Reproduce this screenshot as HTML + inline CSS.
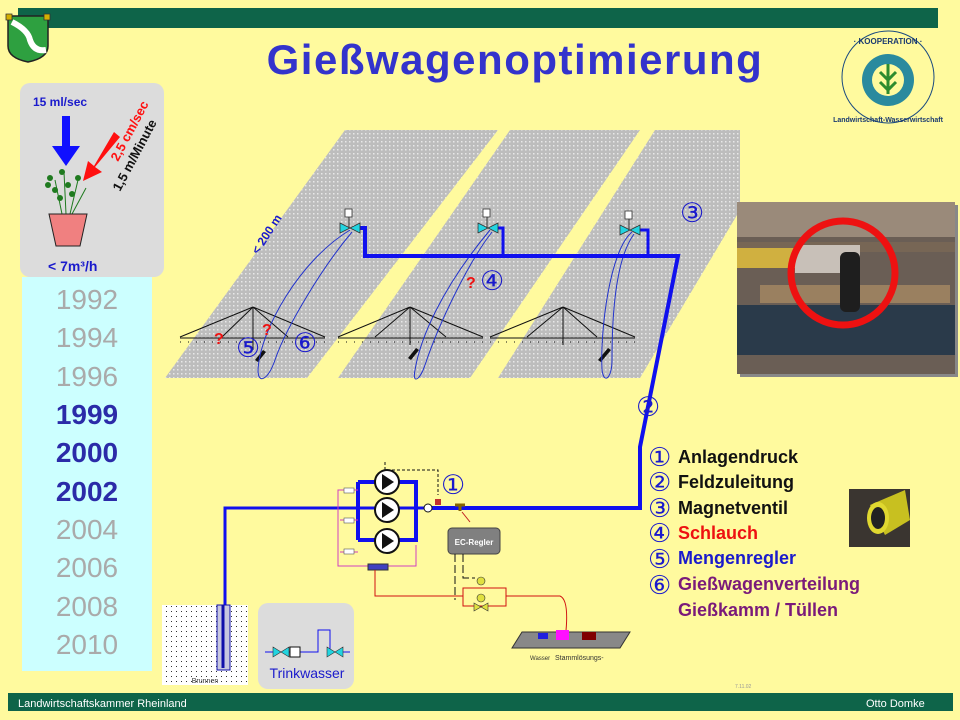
<!DOCTYPE html>
<html><head><meta charset="utf-8"><style>
body{margin:0;width:960px;height:720px;overflow:hidden;background:#FFFA9E;font-family:"Liberation Sans",sans-serif}
svg{display:block}
</style></head><body>
<svg width="960" height="720" viewBox="0 0 960 720" xmlns="http://www.w3.org/2000/svg" font-family="Liberation Sans, sans-serif">
<defs>
<pattern id="dots" width="4" height="4" patternUnits="userSpaceOnUse"><rect width="4" height="4" fill="#BDBDBD"/><rect x="1" y="1" width="1.5" height="1.5" fill="#E8E8E8"/></pattern>
<pattern id="sand" width="5" height="5" patternUnits="userSpaceOnUse"><rect width="5" height="5" fill="#fff"/><rect x="1" y="1" width="1" height="1" fill="#333"/></pattern>
</defs>
<rect width="960" height="720" fill="#FFFA9E"/>
<rect x="18" y="8" width="920" height="20" fill="#0E6449"/>
<path d="M8 16 L48 16 L48 46 Q48 58 28 62 Q8 58 8 46 Z" fill="#2EA040" stroke="#222" stroke-width="1.5"/>
<path d="M6 14 h6 v6 h-6z M44 14 h6 v6 h-6z" fill="#D4B000" stroke="#333" stroke-width="0.8"/>
<path d="M12 22 Q28 30 30 40 Q34 52 46 50" stroke="#fff" stroke-width="6" fill="none"/>
<text x="515" y="74" text-anchor="middle" font-size="42" font-weight="bold" fill="#3333CC" letter-spacing="1.5">Gießwagenoptimierung</text>
<circle cx="888" cy="77" r="46" fill="#FFFA9E" stroke="#1a4a80" stroke-width="1"/>
<circle cx="888" cy="80" r="26" fill="#2a8a9e"/>
<circle cx="888" cy="80" r="16" fill="#FFFA9E"/>
<path d="M888 64 v30 M880 72 l8 8 l8 -8 M880 82 l8 8 l8-8" stroke="#2E8B2E" stroke-width="3" fill="none"/>
<text x="888" y="44" text-anchor="middle" font-size="8" font-weight="bold" fill="#1a3a70">· KOOPERATION ·</text>
<text x="888" y="122" text-anchor="middle" font-size="7" font-weight="bold" fill="#1a3a70">Landwirtschaft-Wasserwirtschaft</text>
<rect x="20" y="83" width="144" height="194" rx="10" fill="#DCDCDC"/>
<text x="33" y="106" font-size="12" font-weight="bold" fill="#1a1acc">15 ml/sec</text>
<path d="M62 116 h8 v30 h10 l-14 20 l-14 -20 h10z" fill="#1010FF"/>
<path d="M114 132 l6 5 l-25 30 l7 5 l-19 9 l5 -20 l6 5z" fill="#FF1010"/>
<text transform="translate(118 162) rotate(-62)" font-size="13" font-weight="bold" fill="#FF1010">2,5 cm/sec</text>
<text transform="translate(120 192) rotate(-62)" font-size="13" font-weight="bold" fill="#111">1,5 m/Minute</text>
<g fill="#1F7A1F"><circle cx="50" cy="178" r="3"/><circle cx="62" cy="172" r="3"/><circle cx="78" cy="178" r="3"/><circle cx="55" cy="190" r="3"/><circle cx="68" cy="185" r="3"/><circle cx="60" cy="198" r="3"/><circle cx="72" cy="194" r="3"/><circle cx="48" cy="185" r="3"/></g>
<path d="M62 214 L55 180 M66 214 L64 172 M70 214 L78 180 M72 214 L86 188" stroke="#1F7A1F" stroke-width="1"/>
<path d="M49 214 h38 l-7 32 h-24z" fill="#F08080" stroke="#222"/>
<text x="48" y="271" font-size="14" font-weight="bold" fill="#1a1acc">&lt; 7m³/h</text>
<rect x="22" y="277" width="130" height="394" fill="#CCFFFF"/>
<g font-size="28" text-anchor="middle">
<text x="87" y="309" fill="#AAAAAA">1992</text>
<text x="87" y="347" fill="#AAAAAA">1994</text>
<text x="87" y="386" fill="#AAAAAA">1996</text>
<text x="87" y="424" fill="#2B2BA8" font-weight="bold">1999</text>
<text x="87" y="462" fill="#2B2BA8" font-weight="bold">2000</text>
<text x="87" y="501" fill="#2B2BA8" font-weight="bold">2002</text>
<text x="87" y="539" fill="#AAAAAA">2004</text>
<text x="87" y="577" fill="#AAAAAA">2006</text>
<text x="87" y="616" fill="#AAAAAA">2008</text>
<text x="87" y="654" fill="#AAAAAA">2010</text>
</g>
<polygon points="345,130 498,130 307,378 165,378" fill="url(#dots)"/>
<polygon points="510,130 640,130 470,378 338,378" fill="url(#dots)"/>
<polygon points="655,130 740,130 740,210 640,378 498,378" fill="url(#dots)"/>
<text transform="translate(258 255) rotate(-57)" font-size="12" font-weight="bold" fill="#1a1acc">&lt; 200 m</text>
<g stroke="#111" stroke-width="1" fill="none">
<path d="M180 338 H325 M253 307 L180 337 M253 307 L325 337 M253 307 L222 337 M253 307 L288 337 M253 307 V350"/>
<path d="M338 338 H483 M410 307 L338 337 M410 307 L483 337 M410 307 L375 337 M410 307 L446 337 M410 307 V345"/>
<path d="M490 338 H635 M563 307 L490 337 M563 307 L635 337 M563 307 L527 337 M563 307 L597 337 M563 307 V345"/>
<path d="M180 342 H325 M338 342 H483 M490 342 H635" stroke-dasharray="1 7"/>
</g>
<path d="M255 360 l8 -10 l3 2 l-8 10z M408 358 l8 -10 l3 2 l-8 10z M598 360 l10 -12 l3 2 l-10 12z" fill="#111"/>
<g stroke="#2233CC" stroke-width="1" fill="none">
<path d="M350 230 C300 260 260 330 258 370 C258 385 268 380 275 360 C285 330 320 270 352 232"/>
<path d="M490 230 C440 290 420 340 415 370 C412 385 420 380 425 365 C440 320 470 260 492 232"/>
<path d="M632 232 C610 250 600 330 602 370 C604 385 612 378 612 360 C612 320 615 260 634 234"/>
</g>
<path d="M357 228 H365 V256 H678 L640 447 V508 H430" stroke="#1010EE" stroke-width="4" fill="none"/>
<path d="M495 228 H503 V256 M638 230 H648 V256" stroke="#1010EE" stroke-width="3" fill="none"/>
<g fill="#22D4E0" stroke="#333" stroke-width="0.8">
<path d="M340 223 l10 5 l-10 5z M360 223 l-10 5 l10 5z"/>
<path d="M478 223 l10 5 l-10 5z M498 223 l-10 5 l10 5z"/>
<path d="M620 225 l10 5 l-10 5z M640 225 l-10 5 l10 5z"/>
</g>
<g fill="#fff" stroke="#333" stroke-width="0.8"><rect x="345" y="209" width="7" height="8"/><rect x="483" y="209" width="7" height="8"/><rect x="625" y="211" width="7" height="8"/></g>
<path d="M349 217 v11 M487 217 v11 M629 219 v11" stroke="#333"/>
<g font-size="27" fill="#1a1acc" font-family="DejaVu Sans, sans-serif">
<text x="680" y="222">③</text>
<text x="480" y="290">④</text>
<text x="236" y="357">⑤</text>
<text x="293" y="352">⑥</text>
<text x="636" y="416">②</text>
<text x="441" y="494">①</text>
</g>
<g font-size="16" font-weight="bold" fill="#EE1111">
<text x="466" y="288">?</text><text x="214" y="344">?</text><text x="262" y="335">?</text>
</g>
<rect x="740" y="205" width="218" height="172" fill="#888"/>
<rect x="737" y="202" width="218" height="172" fill="#6a5e55"/>
<rect x="737" y="202" width="218" height="35" fill="#9a8a7a"/>
<rect x="737" y="242" width="218" height="10" fill="#776655"/>
<rect x="737" y="248" width="60" height="20" fill="#D0B040"/>
<rect x="795" y="245" width="65" height="28" fill="#c8c0b8"/>
<rect x="737" y="305" width="218" height="50" fill="#2a3a4a"/>
<rect x="760" y="285" width="190" height="18" fill="#9a8060"/>
<rect x="840" y="252" width="20" height="60" fill="#1e1e1e" rx="6"/>
<circle cx="843" cy="273" r="52" fill="none" stroke="#EE1111" stroke-width="7"/>
<g font-family="DejaVu Sans, sans-serif" fill="#1a1acc" font-size="26">
<text x="648" y="466">①</text><text x="648" y="491">②</text><text x="648" y="517">③</text><text x="648" y="542">④</text><text x="648" y="568">⑤</text><text x="648" y="594">⑥</text>
</g>
<g font-size="18" font-weight="bold">
<text x="678" y="463" fill="#111">Anlagendruck</text>
<text x="678" y="488" fill="#111">Feldzuleitung</text>
<text x="678" y="514" fill="#111">Magnetventil</text>
<text x="678" y="539" fill="#EE1111">Schlauch</text>
<text x="678" y="564" fill="#1a1acc">Mengenregler</text>
<text x="678" y="590" fill="#7A1A7A">Gießwagenverteilung</text>
<text x="678" y="616" fill="#7A1A7A">Gießkamm / Tüllen</text>
</g>
<rect x="849" y="489" width="61" height="58" fill="#3a3530"/>
<path d="M870 505 L905 490 L910 520 L885 535 Z" fill="#C8C020"/>
<ellipse cx="878" cy="518" rx="11" ry="16" fill="#E0D830"/><ellipse cx="878" cy="518" rx="7" ry="11" fill="#222"/>
<path d="M430 508 H225 V670" stroke="#1010EE" stroke-width="3" fill="none"/>
<path d="M358 482 V540 M358 482 H416 V540 H358" stroke="#1010EE" stroke-width="4" fill="none"/>
<path d="M385 462 V470 H438 V495" stroke="#111" stroke-dasharray="3 2" fill="none"/>
<g fill="#fff" stroke="#111" stroke-width="2">
<circle cx="387" cy="482" r="12"/><circle cx="387" cy="510" r="12"/><circle cx="387" cy="541" r="12"/>
</g>
<path d="M382 474 l12 8 l-12 8z M382 502 l12 8 l-12 8z M382 533 l12 8 l-12 8z" fill="#111"/>
<path d="M358 490 H338 V566 H416 V545 M358 520 H340 M358 552 H340" stroke="#D040C0" fill="none"/>
<g fill="#fff" stroke="#555" stroke-width="0.6"><rect x="344" y="488" width="10" height="5"/><rect x="344" y="518" width="10" height="5"/><rect x="344" y="549" width="10" height="5"/></g>
<rect x="368" y="564" width="20" height="6" fill="#4040C0" stroke="#333"/>
<circle cx="428" cy="508" r="4" fill="#fff" stroke="#111"/>
<rect x="435" y="499" width="6" height="6" fill="#C03030"/>
<path d="M455 505 h10 M460 505 v6" stroke="#886600" stroke-width="3"/>
<path d="M462 512 l8 10" stroke="#C02020"/>
<rect x="448" y="528" width="52" height="26" rx="4" fill="#808080" stroke="#444"/>
<text x="474" y="545" text-anchor="middle" font-size="8" fill="#fff" font-weight="bold">EC-Regler</text>
<path d="M455 554 V600 M463 554 V578 H475" stroke="#111" stroke-dasharray="8 3" fill="none"/>
<path d="M375 570 V596 H463 M463 588 H506 V606 H463 Z M506 596 H560 Q570 600 565 640" stroke="#D01010" fill="none"/>
<g fill="#E0E040" stroke="#333" stroke-width="0.6"><circle cx="481" cy="581" r="4"/><circle cx="481" cy="598" r="4"/><path d="M474 603 l7 4 l-7 4z M488 603 l-7 4 l7 4z"/></g>
<polygon points="522,632 630,632 620,648 512,648" fill="#888" stroke="#333"/>
<rect x="538" y="633" width="10" height="6" fill="#2020DD"/>
<rect x="556" y="630" width="13" height="10" fill="#FF10FF"/>
<rect x="582" y="632" width="14" height="8" fill="#800000"/>
<text x="530" y="660" font-size="6" fill="#333">Wasser</text>
<text x="555" y="660" font-size="7" fill="#333">Stammlösungs-</text>
<rect x="162" y="605" width="86" height="80" fill="url(#sand)"/>
<rect x="217" y="605" width="13" height="65" fill="#C8C8E0" stroke="#1010AA"/>
<path d="M223 605 V668" stroke="#1010AA" stroke-width="3"/>
<text x="205" y="683" text-anchor="middle" font-size="7" fill="#333">Brunnen</text>
<rect x="258" y="603" width="96" height="86" rx="10" fill="#DCDCDC"/>
<path d="M265 652 H318 V630 H330 V652 H350" stroke="#1010EE" fill="none"/>
<path d="M273 647 l8 5 l-8 5z M289 647 l-8 5 l8 5z M327 647 l8 5 l-8 5z M343 647 l-8 5 l8 5z" fill="#22D4E0" stroke="#333" stroke-width="0.6"/>
<rect x="290" y="647" width="10" height="10" fill="#fff" stroke="#111"/>
<text x="307" y="678" text-anchor="middle" font-size="14" fill="#1a1acc">Trinkwasser</text>
<rect x="8" y="693" width="945" height="18" fill="#0E6449"/>
<text x="18" y="707" font-size="11" fill="#fff">Landwirtschaftskammer Rheinland</text>
<text x="866" y="707" font-size="11" fill="#fff">Otto Domke</text>
<text x="735" y="688" font-size="5" fill="#999">7.11.02</text>
</svg>
</body></html>
